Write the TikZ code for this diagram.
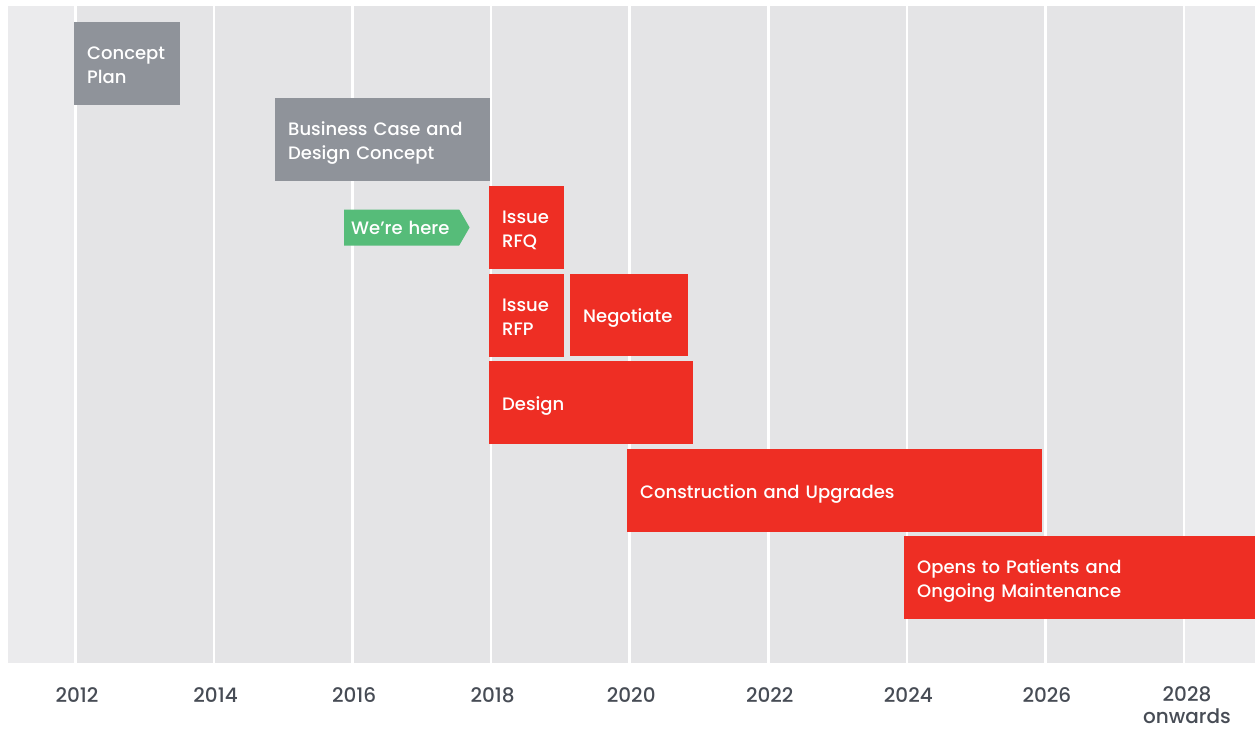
\documentclass[tikz,border=0pt]{standalone}
\usepackage{fontspec}
\setmainfont{Poppins}[UprightFont={* Medium}]
\usetikzlibrary{shapes.symbols,positioning}
\definecolor{panel}{HTML}{E4E4E6}
\definecolor{panelend}{HTML}{EBEBED}
\definecolor{donegrey}{HTML}{8F939A}
\definecolor{todored}{HTML}{EE2E24}
\definecolor{heregreen}{HTML}{56BC79}
\definecolor{yeartext}{HTML}{474C55}
\tikzset
{
    phase/.style = {rectangle, anchor=north west, inner xsep=13pt, inner ysep=0pt, align=left, text=white, minimum height=83pt, text height=15pt, text depth=0pt, font=\fontsize{18}{24}\selectfont},
    twolines/.style = {text depth=24pt},
    donephase/.style = {phase, fill=donegrey},
    todophase/.style = {phase, fill=todored},
    yearlabel/.style = {align=center, text=yeartext, font=\fontsize{20}{22.5}\selectfont, anchor=base, inner sep=0pt},
    gridline/.style = {draw=white, line width=2.5pt}
}

\begin{document}
\begin{tikzpicture}[x=1pt, y=-1pt]
	\useasboundingbox (0,0) rectangle (1255,728);
	% timeline panel
	\fill[panel] (8,6) rectangle (1255,663);
	\fill[panelend] (8,6) rectangle (75.5,663);
	\fill[panelend] (1184,6) rectangle (1255,663);
	\foreach \yr [count=\i from 0] in {2012,2014,2016,2018,2020,2022,2024,2026,2028}
	{
		\draw[gridline] (75.5+138.56*\i,6) -- (75.5+138.56*\i,663);
	}
	% phases
	\node[donephase, twolines, text width=80pt] (concept) at (74,22) {Concept\\Plan};
	\node[donephase, twolines, text width=189pt] (business) at (275,98) {Business Case and\\Design Concept};
	\node[todophase, twolines, text width=49pt] (rfq) at (489,186) {Issue\\RFQ};
	\node[todophase, twolines, text width=49pt] (rfp) at (489,274) {Issue\\RFP};
	\node[todophase, text width=92pt, minimum height=82pt] (negotiate) at (570,274) {Negotiate};
	\node[todophase, text width=178pt] (design) at (489,361) {Design};
	\node[todophase, text width=389pt] (construction) at (627,449) {Construction and Upgrades};
	\node[todophase, twolines, text width=325pt] (opens) at (904,536) {Opens to Patients and\\Ongoing Maintenance};
	% current position marker
	\node[signal, signal to=east, signal pointer angle=120, fill=heregreen, text=white, anchor=west, minimum height=36pt, inner xsep=7pt, inner ysep=0pt, align=left, text width=101pt, text height=14pt, text depth=0pt, font=\fontsize{18}{24}\selectfont] (here) at (344,227.5) {We’re here};
	% years
	\foreach \yr [count=\i from 0] in {2012,2014,2016,2018,2020,2022,2024,2026}
	{
		\node[yearlabel] (year\yr) at (77+138.56*\i,702) {\yr};
	}
	\node[yearlabel, text depth=0pt] (year2028) at (1187,723.5) {2028\\onwards};
\end{tikzpicture}
\end{document}
